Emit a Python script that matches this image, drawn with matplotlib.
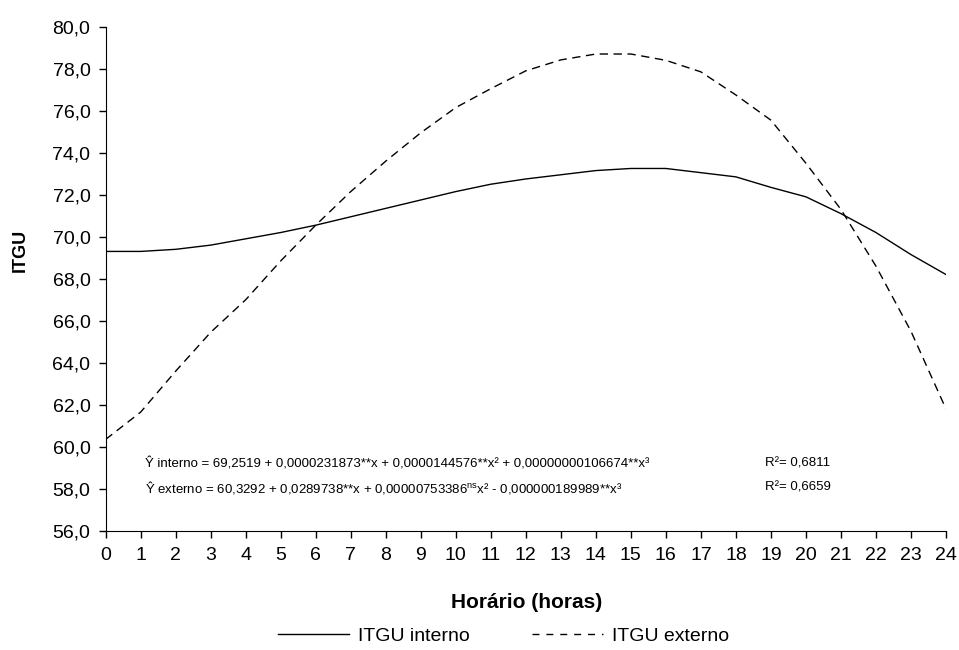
import matplotlib
matplotlib.use("Agg")
import matplotlib.pyplot as plt
from matplotlib.ticker import FuncFormatter
from matplotlib.lines import Line2D

plt.rcParams['font.family'] = ['Liberation Sans', 'DejaVu Sans']
plt.rcParams['mathtext.fontset'] = 'custom'
plt.rcParams['mathtext.rm'] = 'Liberation Sans'
plt.rcParams['mathtext.it'] = 'Liberation Sans'

hours = list(range(0, 25))
itgu_interno = [69.3, 69.3, 69.4, 69.6, 69.9, 70.2, 70.55, 70.95, 71.35, 71.75,
                72.15, 72.5, 72.75, 72.95, 73.15, 73.25, 73.25, 73.05, 72.85, 72.35,
                71.9, 71.1, 70.2, 69.15, 68.2]
itgu_externo = [60.35, 61.65, 63.6, 65.45, 67.0, 68.85, 70.55, 72.15, 73.6, 74.95,
                76.15, 77.05, 77.9, 78.42, 78.7, 78.7, 78.4, 77.85, 76.75, 75.55,
                73.5, 71.3, 68.6, 65.5, 61.8]
y_ticks = [56, 58, 60, 62, 64, 66, 68, 70, 72, 74, 76, 78, 80]
eq_interno = "Ŷ interno = 69,2519 + 0,0000231873**x + 0,0000144576**x² + 0,00000000106674**x³"
eq_externo = "Ŷ externo = 60,3292 + 0,0289738**x + 0,00000753386$^{\\rm ns}$x² - 0,000000189989**x³"
r2_interno = "R²= 0,6811"
r2_externo = "R²= 0,6659"

fig = plt.figure(figsize=(9.59, 6.5), dpi=100)
ax = fig.add_axes([0.1102, 0.1835, 0.8762, 0.7754])

ax.plot(hours, itgu_interno, color='black', lw=1.0, ls='-')
ax.plot(hours, itgu_externo, color='black', lw=1.0, ls=(0, (6, 4)))

ax.set_xlim(0, 24)
ax.set_ylim(56, 80)
ax.set_xticks(hours)
ax.set_yticks(y_ticks)
ax.yaxis.set_major_formatter(FuncFormatter(lambda v, p: f"{v:.1f}".replace('.', ',')))
ax.spines['top'].set_visible(False)
ax.spines['right'].set_visible(False)
ax.tick_params(direction='out', length=5, width=1, labelsize=14)
ax.tick_params(axis='x', pad=7)
ax.tick_params(axis='y', pad=6)

fig.text(527 / 959, 1 - 602 / 650, "Horário (horas)", fontsize=15, fontweight='bold',
         ha='center', va='center')
fig.text(20 / 959, 1 - 250 / 650, "ITGU", fontsize=13, fontweight='bold',
         ha='center', va='center', rotation=90)

ax.text(1.12, 59.2, eq_interno, fontsize=9.5, va='center', ha='left')
ax.text(1.12, 58.08, eq_externo, fontsize=9.5, va='center', ha='left')
ax.text(18.82, 59.2, r2_interno, fontsize=9.5, va='center', ha='left')
ax.text(18.82, 58.08, r2_externo, fontsize=9.5, va='center', ha='left')

handles = [Line2D([], [], color='black', lw=1.0, ls='-'),
           Line2D([], [], color='black', lw=1.0, ls=(0, (5, 5)))]
fig.legend(handles, ["ITGU interno", "ITGU externo"], loc='center',
           bbox_to_anchor=(0.525, 1 - 636 / 650), ncol=2, frameon=False,
           handlelength=3.65, columnspacing=3.2, handletextpad=0.45,
           prop={'size': 14})

fig.savefig("out.png", dpi=100)
